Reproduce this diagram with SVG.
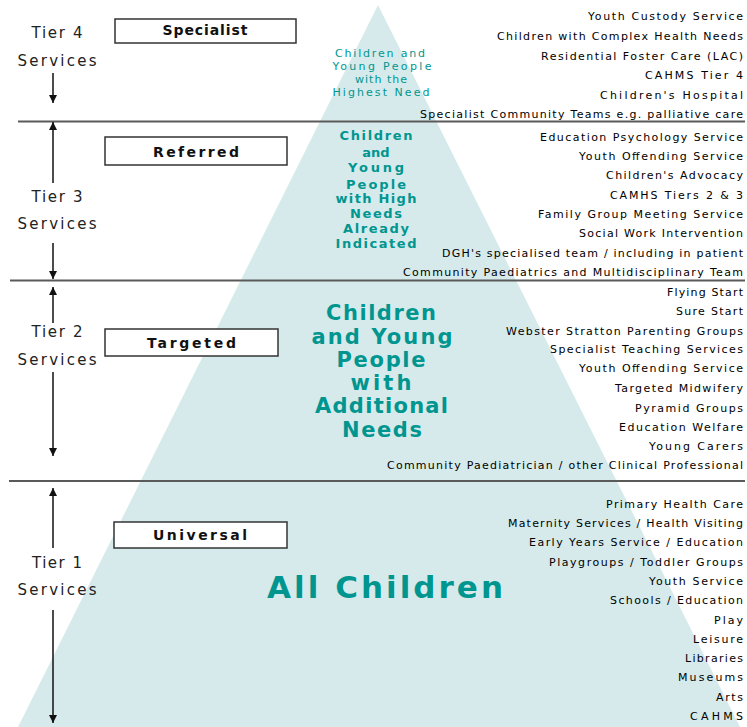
<svg xmlns="http://www.w3.org/2000/svg" width="747" height="727" viewBox="0 0 747 727">
<style>
.svc{font-family:"DejaVu Sans","Liberation Sans",sans-serif;font-size:11px;fill:#000;text-anchor:end}
.tier{font-family:"DejaVu Sans","Liberation Sans",sans-serif;font-size:15px;fill:#222;text-anchor:middle}
.box{fill:#fff;stroke:#333;stroke-width:1.5}
.blab{font-family:"DejaVu Sans","Liberation Sans",sans-serif;font-size:14px;font-weight:bold;fill:#111;text-anchor:middle}
.teal{font-family:"DejaVu Sans","Liberation Sans",sans-serif;fill:#00968f;text-anchor:middle}
.sep{stroke:#5a5a5a;stroke-width:2.2}
.arr{stroke:#111;stroke-width:1.5;fill:none}
</style>
<defs>
<marker id="ah" viewBox="0 0 10 10" refX="10" refY="5" markerWidth="8" markerHeight="8" markerUnits="userSpaceOnUse" orient="auto">
<path d="M0,0 L10,5 L0,10 Z" fill="#111"/>
</marker>
</defs>
<rect width="747" height="727" fill="#fff"/>
<polygon id="pyramid" points="378,5 740,727 18,727" fill="#d6eaec"/>

<g id="separators">
<line class="sep" x1="18" y1="121.5" x2="745" y2="121.5"/>
<line class="sep" x1="10" y1="280.5" x2="745" y2="280.5"/>
<line class="sep" x1="9" y1="481" x2="745" y2="481"/>
</g>

<g id="connectors">
<line class="arr" x1="53" y1="73" x2="53" y2="103" marker-end="url(#ah)"/>
<line class="arr" x1="53" y1="183" x2="53" y2="122" marker-end="url(#ah)"/>
<line class="arr" x1="53" y1="243" x2="53" y2="279" marker-end="url(#ah)"/>
<line class="arr" x1="53" y1="323" x2="53" y2="287" marker-end="url(#ah)"/>
<line class="arr" x1="53" y1="372" x2="53" y2="456" marker-end="url(#ah)"/>
<line class="arr" x1="53" y1="548" x2="53" y2="488" marker-end="url(#ah)"/>
<line class="arr" x1="53" y1="610" x2="53" y2="723" marker-end="url(#ah)"/>
</g>

<g id="tier4">
<text class="tier" x="57" y="38" textLength="51" lengthAdjust="spacing">Tier 4</text>
<text class="tier" x="57" y="66" textLength="79" lengthAdjust="spacing">Services</text>
<rect class="box" x="115" y="19" width="181" height="24"/>
<text class="blab" x="205" y="35" font-size="13" textLength="85" lengthAdjust="spacing">Specialist</text>
<text class="teal" font-size="11"><tspan x="380" y="57" textLength="90" lengthAdjust="spacing">Children and</tspan><tspan x="382" y="70" textLength="99" lengthAdjust="spacing">Young People</tspan><tspan x="381" y="83" textLength="52" lengthAdjust="spacing">with the</tspan><tspan x="381" y="96" textLength="97" lengthAdjust="spacing">Highest Need</tspan></text>
<text class="svc" x="743" y="20" textLength="155" lengthAdjust="spacing">Youth Custody Service</text>
<text class="svc" x="743" y="40" textLength="246" lengthAdjust="spacing">Children with Complex Health Needs</text>
<text class="svc" x="743" y="60" textLength="202" lengthAdjust="spacing">Residential Foster Care (LAC)</text>
<text class="svc" x="743" y="79" textLength="98" lengthAdjust="spacing">CAHMS Tier 4</text>
<text class="svc" x="743" y="99" textLength="143" lengthAdjust="spacing">Children's Hospital</text>
<text class="svc" x="743" y="118" textLength="323" lengthAdjust="spacing">Specialist Community Teams e.g. palliative care</text>
</g>

<g id="tier3">
<text class="tier" x="57" y="202" textLength="51" lengthAdjust="spacing">Tier 3</text>
<text class="tier" x="57" y="229" textLength="79" lengthAdjust="spacing">Services</text>
<rect class="box" x="105" y="137" width="182" height="28"/>
<text class="blab" x="196" y="157" textLength="86" lengthAdjust="spacing">Referred</text>
<text class="teal" font-size="13" font-weight="bold"><tspan x="376" y="140" textLength="73" lengthAdjust="spacing">Children</tspan><tspan x="376" y="157">and</tspan><tspan x="376" y="172" textLength="56" lengthAdjust="spacing">Young</tspan><tspan x="376" y="189" textLength="60" lengthAdjust="spacing">People</tspan><tspan x="376" y="203" textLength="81" lengthAdjust="spacing">with High</tspan><tspan x="376" y="218" textLength="52" lengthAdjust="spacing">Needs</tspan><tspan x="376" y="233" textLength="66" lengthAdjust="spacing">Already</tspan><tspan x="376" y="248" textLength="81" lengthAdjust="spacing">Indicated</tspan></text>
<text class="svc" x="743" y="141" textLength="203" lengthAdjust="spacing">Education Psychology Service</text>
<text class="svc" x="743" y="160" textLength="164" lengthAdjust="spacing">Youth Offending Service</text>
<text class="svc" x="743" y="179" textLength="137" lengthAdjust="spacing">Children's Advocacy</text>
<text class="svc" x="743" y="199" textLength="133" lengthAdjust="spacing">CAMHS Tiers 2 &amp; 3</text>
<text class="svc" x="743" y="218" textLength="205" lengthAdjust="spacing">Family Group Meeting Service</text>
<text class="svc" x="743" y="237" textLength="164" lengthAdjust="spacing">Social Work Intervention</text>
<text class="svc" x="743" y="257" textLength="301" lengthAdjust="spacing">DGH's specialised team / including in patient</text>
<text class="svc" x="743" y="276" textLength="340" lengthAdjust="spacing">Community Paediatrics and Multidisciplinary Team</text>
</g>

<g id="tier2">
<text class="tier" x="57" y="337" textLength="51" lengthAdjust="spacing">Tier 2</text>
<text class="tier" x="57" y="365" textLength="79" lengthAdjust="spacing">Services</text>
<rect class="box" x="105" y="329" width="173" height="27"/>
<text class="blab" x="191.5" y="348" textLength="89" lengthAdjust="spacing">Targeted</text>
<text class="teal" font-size="21" font-weight="bold"><tspan x="381" y="320" textLength="110" lengthAdjust="spacing">Children</tspan><tspan x="382" y="344" textLength="141" lengthAdjust="spacing">and Young</tspan><tspan x="381" y="367" textLength="89" lengthAdjust="spacing">People</tspan><tspan x="381" y="390" textLength="61" lengthAdjust="spacing">with</tspan><tspan x="381.5" y="413" textLength="133" lengthAdjust="spacing">Additional</tspan><tspan x="382" y="437" textLength="80" lengthAdjust="spacing">Needs</tspan></text>
<text class="svc" x="743" y="296" textLength="76" lengthAdjust="spacing">Flying Start</text>
<text class="svc" x="743" y="315" textLength="67" lengthAdjust="spacing">Sure Start</text>
<text class="svc" x="743" y="335" textLength="237" lengthAdjust="spacing">Webster Stratton Parenting Groups</text>
<text class="svc" x="743" y="353" textLength="193" lengthAdjust="spacing">Specialist Teaching Services</text>
<text class="svc" x="743" y="372" textLength="164" lengthAdjust="spacing">Youth Offending Service</text>
<text class="svc" x="743" y="392" textLength="128" lengthAdjust="spacing">Targeted Midwifery</text>
<text class="svc" x="743" y="412" textLength="108" lengthAdjust="spacing">Pyramid Groups</text>
<text class="svc" x="743" y="431" textLength="124" lengthAdjust="spacing">Education Welfare</text>
<text class="svc" x="743" y="450" textLength="94" lengthAdjust="spacing">Young Carers</text>
<text class="svc" x="743" y="469" textLength="356" lengthAdjust="spacing">Community Paediatrician / other Clinical Professional</text>
</g>

<g id="tier1">
<text class="tier" x="57" y="568" textLength="50" lengthAdjust="spacing">Tier 1</text>
<text class="tier" x="57" y="595" textLength="79" lengthAdjust="spacing">Services</text>
<rect class="box" x="114" y="522" width="173" height="26"/>
<text class="blab" x="200" y="540" textLength="94" lengthAdjust="spacing">Universal</text>
<text class="teal" x="385" y="598" font-size="31" font-weight="bold" textLength="236" lengthAdjust="spacing">All Children</text>
<text class="svc" x="743" y="508" textLength="137" lengthAdjust="spacing">Primary Health Care</text>
<text class="svc" x="743" y="527" textLength="235" lengthAdjust="spacing">Maternity Services / Health Visiting</text>
<text class="svc" x="743" y="546" textLength="214" lengthAdjust="spacing">Early Years Service / Education</text>
<text class="svc" x="743" y="566" textLength="194" lengthAdjust="spacing">Playgroups / Toddler Groups</text>
<text class="svc" x="743" y="585" textLength="94" lengthAdjust="spacing">Youth Service</text>
<text class="svc" x="743" y="604" textLength="133" lengthAdjust="spacing">Schools / Education</text>
<text class="svc" x="743" y="624" textLength="29" lengthAdjust="spacing">Play</text>
<text class="svc" x="743" y="643" textLength="50" lengthAdjust="spacing">Leisure</text>
<text class="svc" x="743" y="662" textLength="58" lengthAdjust="spacing">Libraries</text>
<text class="svc" x="743" y="681" textLength="65" lengthAdjust="spacing">Museums</text>
<text class="svc" x="743" y="701" textLength="27" lengthAdjust="spacing">Arts</text>
<text class="svc" x="743" y="720" textLength="53" lengthAdjust="spacing">CAHMS</text>
</g>
</svg>
